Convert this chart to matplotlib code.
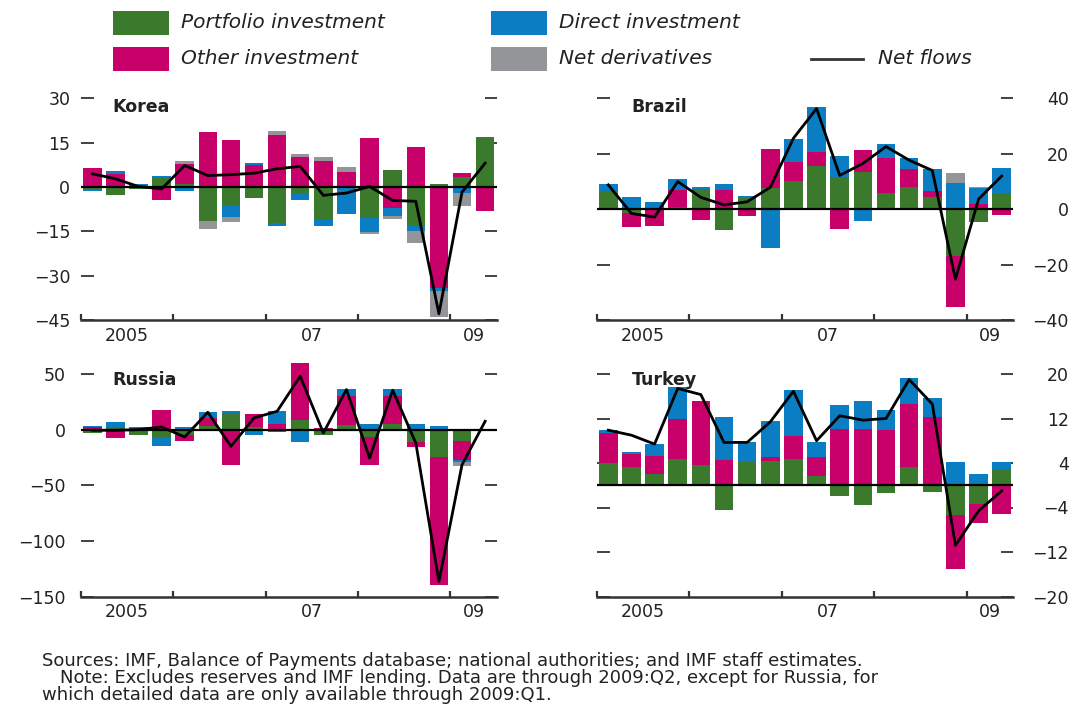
import numpy as np
import matplotlib.pyplot as plt
from matplotlib.patches import Rectangle
from matplotlib.lines import Line2D

plt.rcParams['font.family'] = ['DejaVu Sans']

# quarters 2005:Q1 .. 2009:Q2
n_q = 18
year_ticks = ['2005', '07', '09']

# Korea, billions of US dollars
korea_portfolio = [-0.8, -2.8, -0.8, 3.2, 0.9, -11.5, -6.3, -3.6, -12.2, -1.9, -11.0, 0.0, -10.5, 5.9, -13.2, 0.9, 3.4, 16.9]
korea_other = [6.4, 4.5, 0.0, -4.3, 7.0, 18.5, 16.0, 7.3, 17.7, 10.1, 8.8, 5.1, 16.6, -7.1, 13.5, -34.2, 1.5, -8.2]
korea_direct = [-0.5, 0.9, 0.9, 0.7, -1.3, 0.0, -3.8, 0.9, -0.8, -2.6, -2.3, -9.0, -4.7, -2.8, -1.7, -1.0, -1.9, 0.0]
korea_deriv = [0, 0, 0, 0, 0.9, -2.8, -1.7, 0, 1.2, 1.1, 1.4, 1.7, -0.8, -0.8, -3.9, -8.6, -4.6, 0]
korea_net = [4.5, 2.8, 0.2, -0.6, 7.3, 3.9, 4.2, 4.7, 6.2, 7.0, -2.8, -2.0, 0.2, -4.5, -4.8, -42.8, -1.7, 8.1]

# Brazil
brazil_portfolio = [6.5, -1.2, 0.0, 0.9, 7.3, -7.6, 3.9, 7.6, 10.2, 15.5, 11.8, 13.4, 6.0, 8.2, 4.5, -16.7, -4.5, 5.9]
brazil_other = [0.0, -5.1, -6.1, 6.1, -3.9, 7.1, -2.4, 14.0, 6.8, 5.2, -7.1, 7.9, 12.6, 6.5, 2.0, -18.4, 1.8, -2.2]
brazil_direct = [2.7, 4.5, 2.8, 4.0, 0.9, 2.1, 1.0, -13.8, 8.3, 16.2, 7.3, -4.3, 4.9, 3.9, 7.9, 9.6, 5.7, 9.0]
brazil_deriv = [0, 0, 0, 0, 0, 0, 0, 0, 0, 0, 0, 0, 0, 0, 0, 3.5, 0.6, 0]
brazil_net = [8.8, -1.5, -2.8, 10.0, 4.3, 1.6, 2.7, 7.9, 25.6, 36.3, 12.2, 16.5, 22.6, 17.7, 14.0, -25.2, 3.7, 12.0]

# Russia (bars through 2009:Q1)
russia_portfolio = [-3.0, 2.4, -4.8, -7.5, -4.8, 3.6, 15.0, 2.4, -2.1, 9.0, -4.8, 3.9, -6.6, 5.4, -11.4, -24.6, -9.9]
russia_other = [2.4, -7.5, 0.0, 18.0, -5.1, 6.9, -31.8, 12.0, 5.4, 50.5, 1.5, 26.1, -25.2, 24.6, -4.2, -115.0, -17.1]
russia_direct = [1.2, 4.2, 2.1, -7.5, 2.4, 5.4, 1.8, -4.8, 11.4, -11.1, 0.0, 6.6, 5.4, 6.6, 5.4, 3.6, -2.1]
russia_deriv = [0, 0, 0, 0, 0, 0, 0, 0, 0, 0, 0, 0, 0, 0, 0, 0, -3.9]
russia_net = [-0.6, -0.6, 0.0, 2.4, -6.6, 15.6, -15.0, 10.5, 16.5, 48.0, -3.0, 36.0, -25.5, 35.4, -12.0, -136.5, -31.5, 7.5]

# Turkey
turkey_portfolio = [4.0, 3.2, 2.1, 4.7, 3.7, -4.5, 4.1, 4.4, 4.7, 1.6, -1.9, -3.5, -1.4, 3.2, -1.2, -5.3, -3.3, 3.0]
turkey_other = [5.4, 2.5, 3.1, 7.3, 11.4, 4.5, 0.0, 0.6, 4.1, 3.4, 10.1, 10.1, 9.9, 11.4, 12.3, -9.8, -3.5, -5.1]
turkey_direct = [0.5, 0.3, 2.3, 5.6, 0.0, 7.7, 3.7, 6.5, 8.3, 2.8, 4.4, 5.0, 3.6, 4.6, 3.4, 4.2, 2.1, 1.2]
turkey_deriv = [0] * 18
turkey_net = [9.9, 9.0, 7.4, 17.4, 16.3, 7.7, 7.7, 11.4, 16.9, 8.0, 12.5, 11.7, 12.0, 19.0, 14.6, -10.8, -4.6, -1.0]

GREEN = '#3b7a2c'
PINK = '#c8006a'
BLUE = '#0a7dc3'
GRAY = '#949599'
AXC = '#333333'

W, H = 1074, 706
fig = plt.figure(figsize=(W / 100, H / 100), dpi=100)


def px_ax(left, top, right, bottom):
    return fig.add_axes([left / W, 1 - bottom / H, (right - left) / W, (bottom - top) / H])


def panel(ax, name, parts, net, yticks, side, lpad, tx, ty):
    nb = len(parts[0][0])
    x = np.arange(nb)
    pos = np.zeros(nb)
    neg = np.zeros(nb)
    for vals, col in parts:
        v = np.array(vals, dtype=float)
        base = np.where(v >= 0, pos, neg)
        ax.bar(x, v, bottom=base, width=0.8, color=col, linewidth=0, clip_on=False, zorder=2)
        pos += np.clip(v, 0, None)
        neg += np.clip(v, None, 0)
    ax.axhline(0, color='black', lw=1.6, zorder=3)
    ax.plot(np.arange(len(net)), net, color='black', lw=2.0, zorder=4, clip_on=False)

    ax.set_xlim(-0.5, n_q - 0.5)
    ax.set_ylim(yticks[0], yticks[-1])
    ax.set_yticks(yticks)
    ax.set_yticklabels([str(t).replace('-', '\u2212') for t in yticks])
    for s in ['left', 'right', 'top']:
        ax.spines[s].set_visible(False)
    ax.spines['bottom'].set_color(AXC)
    ax.spines['bottom'].set_linewidth(1.8)
    ax.spines['bottom'].set_zorder(5)

    ax.set_xticks([-0.5, 3.5, 7.5, 11.5, 15.5])
    ax.set_xticklabels([])
    ax.set_xticks([1.5, 9.5, 16.5], minor=True)
    ax.set_xticklabels(year_ticks, minor=True)
    ax.tick_params(axis='x', which='major', direction='in', length=4, width=1.6, color=AXC)
    ax.tick_params(axis='x', which='minor', length=0, pad=5, labelsize=12.5, labelcolor='#222222')

    ax.tick_params(axis='y', direction='in', length=9, width=1.3, color=AXC,
                   left=True, right=True, labelsize=12.5, labelcolor='#222222',
                   labelleft=(side == 'left'), labelright=(side == 'right'), pad=lpad)
    if side == 'right':
        for lab in ax.get_yticklabels():
            lab.set_horizontalalignment('right')

    ax.text(tx, ty, name, transform=ax.transAxes, fontsize=12.5, fontweight='bold',
            va='center', ha='left', color='#222222')


ax1 = px_ax(80.7, 98.3, 496.7, 320.3)
panel(ax1, 'Korea',
      [(korea_portfolio, GREEN), (korea_other, PINK), (korea_direct, BLUE), (korea_deriv, GRAY)],
      korea_net, [-45, -30, -15, 0, 15, 30], 'left', 7.5, 0.075, 0.96)

ax2 = px_ax(596.7, 98.3, 1013.3, 320.3)
panel(ax2, 'Brazil',
      [(brazil_portfolio, GREEN), (brazil_other, PINK), (brazil_direct, BLUE), (brazil_deriv, GRAY)],
      brazil_net, [-40, -20, 0, 20, 40], 'right', 40, 0.084, 0.96)

ax3 = px_ax(80.7, 374, 496.7, 596.5)
panel(ax3, 'Russia',
      [(russia_portfolio, GREEN), (russia_other, PINK), (russia_direct, BLUE), (russia_deriv, GRAY)],
      russia_net, [-150, -100, -50, 0, 50], 'left', 10.5, 0.075, 0.973)

ax4 = px_ax(596.7, 374, 1013.3, 596.5)
panel(ax4, 'Turkey',
      [(turkey_portfolio, GREEN), (turkey_other, PINK), (turkey_direct, BLUE), (turkey_deriv, GRAY)],
      turkey_net, [-20, -12, -4, 4, 12, 20], 'right', 40, 0.084, 0.973)

# legend drawn by hand (two rows, three columns)
legend_items = [
    (GREEN, 'Portfolio investment', 113, 11),
    (BLUE, 'Direct investment', 491, 11),
    (PINK, 'Other investment', 113, 47),
    (GRAY, 'Net derivatives', 491, 47),
]
for col, label, lx, ly in legend_items:
    fig.patches.append(Rectangle((lx / W, 1 - (ly + 24) / H), 56 / W, 24 / H,
                                 transform=fig.transFigure, facecolor=col, edgecolor='none'))
    fig.text((lx + 68) / W, 1 - (ly + 12) / H, label, fontsize=14.5, style='italic',
             va='center', ha='left', color='#222222')
fig.lines.append(Line2D([811 / W, 863 / W], [1 - 59 / H, 1 - 59 / H], transform=fig.transFigure,
                        color='#333333', lw=2))
fig.text(878 / W, 1 - 59 / H, 'Net flows', fontsize=14.5, style='italic', va='center',
         ha='left', color='#222222')

fig.text(42 / W, 1 - 661 / H,
         'Sources: IMF, Balance of Payments database; national authorities; and IMF staff estimates.',
         fontsize=13, va='center', ha='left', color='#222222')
fig.text(60 / W, 1 - 678 / H,
         'Note: Excludes reserves and IMF lending. Data are through 2009:Q2, except for Russia, for',
         fontsize=13, va='center', ha='left', color='#222222')
fig.text(42 / W, 1 - 695 / H,
         'which detailed data are only available through 2009:Q1.',
         fontsize=13, va='center', ha='left', color='#222222')

fig.savefig('out.png', dpi=100)
